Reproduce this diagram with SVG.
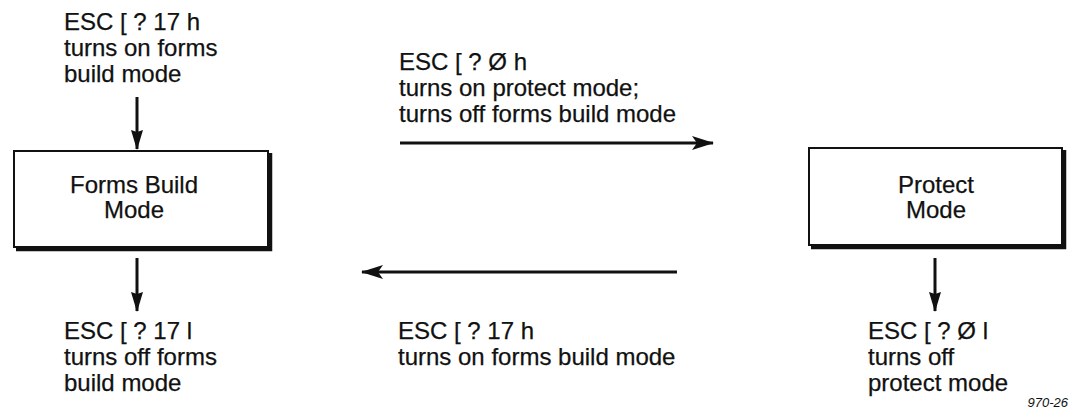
<svg xmlns="http://www.w3.org/2000/svg" width="1075" height="414" viewBox="0 0 1075 414">
<style>
text{font-family:"Liberation Sans",Arial,sans-serif;font-size:24px;fill:#111;stroke:#111;stroke-width:0.25}
.c{text-anchor:middle}
.lbl{font-size:13px;font-style:italic;text-anchor:end;stroke:none}
.box{fill:#fff;stroke:#111;stroke-width:2}
.sh{fill:none;stroke:#111;stroke-width:4.5}
.ln{stroke:#111;stroke-width:3;fill:none}
</style>
<defs>
<marker id="ahv" viewBox="0 0 20 12" refX="19" refY="6" markerWidth="20" markerHeight="12" markerUnits="userSpaceOnUse" orient="auto">
<path d="M0,0 L20,6 L0,12 L2,6 Z" fill="#111"/>
</marker>
<marker id="ahh" viewBox="0 0 22 14" refX="21" refY="7" markerWidth="22" markerHeight="14" markerUnits="userSpaceOnUse" orient="auto">
<path d="M0,0 L22,7 L0,14 L5,7 Z" fill="#111"/>
</marker>
</defs>
<rect width="1075" height="414" fill="#fff"/>
<g id="forms-build">
<rect class="box" x="14" y="151" width="254" height="96"/>
<path class="sh" d="M270,153 V249 H16"/>
<text class="c" x="134" y="193">Forms Build</text>
<text class="c" x="134" y="218">Mode</text>
</g>
<g id="protect">
<rect class="box" x="809" y="148" width="253" height="97"/>
<path class="sh" d="M1064,150 V247 H811"/>
<text class="c" x="936" y="193">Protect</text>
<text class="c" x="936" y="218">Mode</text>
</g>
<g id="label-top-left">
<text x="64" y="30">ESC [ ? 17 h</text>
<text x="64" y="56">turns on forms</text>
<text x="64" y="82">build mode</text>
</g>
<g id="label-bottom-left">
<text x="64" y="339">ESC [ ? 17 l</text>
<text x="64" y="365">turns off forms</text>
<text x="64" y="391">build mode</text>
</g>
<g id="label-top-mid">
<text x="399" y="70">ESC [ ? Ø h</text>
<text x="399" y="96">turns on protect mode;</text>
<text x="399" y="122">turns off forms build mode</text>
</g>
<g id="label-bottom-mid">
<text x="398" y="339">ESC [ ? 17 h</text>
<text x="398" y="365">turns on forms build mode</text>
</g>
<g id="label-bottom-right">
<text x="868" y="339">ESC [ ? Ø l</text>
<text x="868" y="365">turns off</text>
<text x="868" y="391">protect mode</text>
</g>
<text class="lbl" x="1068" y="407">970-26</text>
<g id="connectors">
<line class="ln" x1="137" y1="97" x2="137" y2="149" marker-end="url(#ahv)"/>
<line class="ln" x1="137" y1="258" x2="137" y2="311" marker-end="url(#ahv)"/>
<line class="ln" x1="400" y1="143" x2="713" y2="143" marker-end="url(#ahh)"/>
<line class="ln" x1="677" y1="272" x2="362" y2="272" marker-end="url(#ahh)"/>
<line class="ln" x1="935" y1="258" x2="935" y2="311" marker-end="url(#ahv)"/>
</g>
</svg>
